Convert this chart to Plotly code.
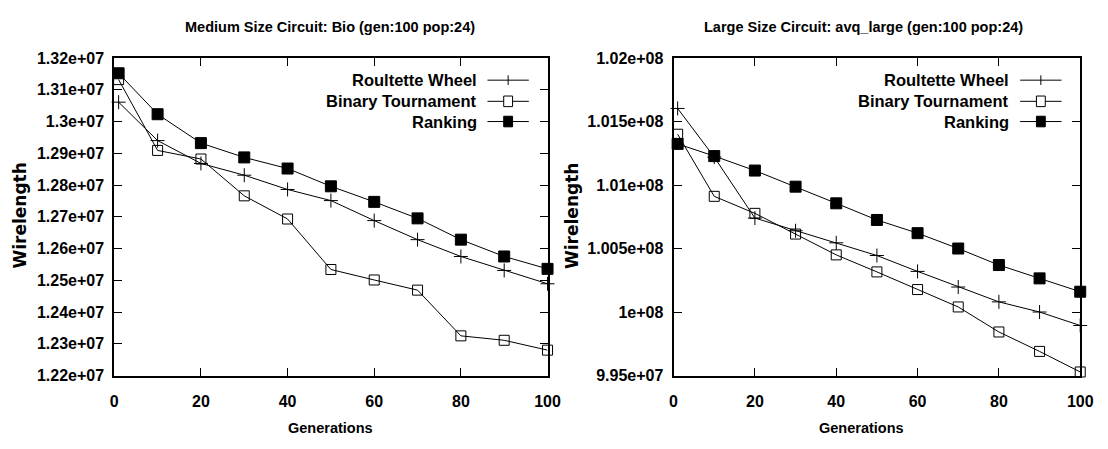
import plotly.graph_objects as go

# ---------------- data ----------------
generations = [1, 10, 20, 30, 40, 50, 60, 70, 80, 90, 100]

bio_roulette = [1.3061e7, 1.2940e7, 1.2868e7, 1.2831e7, 1.2786e7, 1.2751e7,
                1.2688e7, 1.2628e7, 1.2575e7, 1.2531e7, 1.2489e7]
bio_binary = [1.3132e7, 1.2909e7, 1.2882e7, 1.2766e7, 1.2693e7, 1.2534e7,
              1.2501e7, 1.2469e7, 1.2325e7, 1.2311e7, 1.2280e7]
bio_ranking = [1.3152e7, 1.3023e7, 1.2932e7, 1.2887e7, 1.2852e7, 1.2796e7,
               1.2747e7, 1.2695e7, 1.2628e7, 1.2575e7, 1.2536e7]

avq_roulette = [1.01603e8, 1.01220e8, 1.00740e8, 1.00640e8, 1.00545e8, 1.00445e8,
                1.00320e8, 1.00197e8, 1.00080e8, 1.00000e8, 9.9894e7]
avq_binary = [1.01400e8, 1.00911e8, 1.00777e8, 1.00614e8, 1.00450e8, 1.00316e8,
              1.00177e8, 1.00040e8, 9.9843e7, 9.9690e7, 9.9528e7]
avq_ranking = [1.01324e8, 1.01228e8, 1.01114e8, 1.00987e8, 1.00856e8, 1.00725e8,
               1.00621e8, 1.00500e8, 1.00370e8, 1.00265e8, 1.00160e8]

series_names = ["Roultette Wheel", "Binary Tournament", "Ranking"]

x_ticks = [0, 20, 40, 60, 80, 100]
left_y_ticks = [1.22e7, 1.23e7, 1.24e7, 1.25e7, 1.26e7, 1.27e7,
                1.28e7, 1.29e7, 1.30e7, 1.31e7, 1.32e7]
left_y_labels = ["1.22e+07", "1.23e+07", "1.24e+07", "1.25e+07", "1.26e+07", "1.27e+07",
                 "1.28e+07", "1.29e+07", "1.3e+07", "1.31e+07", "1.32e+07"]
right_y_ticks = [9.95e7, 1.0e8, 1.005e8, 1.01e8, 1.015e8, 1.02e8]
right_y_labels = ["9.95e+07", "1e+08", "1.005e+08", "1.01e+08", "1.015e+08", "1.02e+08"]

left_title = "Medium Size Circuit: Bio (gen:100 pop:24)"
right_title = "Large Size Circuit: avq_large (gen:100 pop:24)"

# ---------------- layout constants ----------------
W, H = 1108, 449
FONT = "Liberation Sans, Arial, sans-serif"
WIDE = "DejaVu Sans, Verdana, sans-serif"

L_X0, L_X1 = 112, 552
R_X0, R_X1 = 680, 1093
Y_TOP, Y_BOT = 52, 382


def px(x):
    return x / W


def py(y):
    return 1 - y / H


symbols = ["cross-thin-open", "square-open", "square"]
sizes = [10, 10, 11]

fig = go.Figure()

for data, xa, ya in [((bio_roulette, bio_binary, bio_ranking), "x", "y"),
                     ((avq_roulette, avq_binary, avq_ranking), "x2", "y2")]:
    for name, vals, sym, sz in zip(series_names, data, symbols, sizes):
        fig.add_trace(go.Scatter(
            x=generations, y=vals, name=name, mode="lines+markers",
            xaxis=xa, yaxis=ya, showlegend=False, cliponaxis=False,
            line=dict(color="black", width=1),
            marker=dict(symbol=sym, size=sz, color="black",
                        line=dict(color="black", width=1)),
        ))

axis_common = dict(
    showline=True, linecolor="black", linewidth=2, mirror="ticks",
    ticks="inside", ticklen=8, tickwidth=1.2, tickcolor="black",
    showgrid=False, zeroline=False,
    tickfont=dict(family=FONT, size=16, color="black", weight="bold"),
)

fig.update_layout(
    width=W, height=H, margin=dict(l=0, r=0, t=0, b=0),
    paper_bgcolor="white", plot_bgcolor="white",
    xaxis=dict(domain=[px(L_X0), px(L_X1)], range=[0, 100], tickvals=x_ticks,
               anchor="y", ticklabelstandoff=10, **axis_common),
    yaxis=dict(domain=[py(Y_BOT), py(Y_TOP)], range=[1.22e7, 1.32e7],
               tickvals=left_y_ticks, ticktext=left_y_labels, anchor="x",
               ticklabelstandoff=5, **axis_common),
    xaxis2=dict(domain=[px(R_X0), px(R_X1)], range=[0, 100], tickvals=x_ticks,
                anchor="y2", ticklabelstandoff=10, **axis_common),
    yaxis2=dict(domain=[py(Y_BOT), py(Y_TOP)], range=[9.95e7, 1.02e8],
                tickvals=right_y_ticks, ticktext=right_y_labels, anchor="x2",
                ticklabelstandoff=5, **axis_common),
)

annotations = []
shapes = []


def text(x, y, s, family=FONT, size=15, angle=0, xanchor="center"):
    annotations.append(dict(
        x=px(x), y=py(y), xref="paper", yref="paper", text="<b>%s</b>" % s,
        showarrow=False, xanchor=xanchor, yanchor="middle", textangle=angle,
        font=dict(family=family, size=size, color="black")))


# titles and axis titles
text(331, 20, left_title, size=14.5)
text(873, 20, right_title, size=14.5)
text(332, 437, "Generations", size=14.5)
text(871, 437, "Generations", size=14.5)
text(16, 216, "Wirelength", family=WIDE, size=17, angle=-90)
text(577, 216, "Wirelength", family=WIDE, size=17, angle=-90)

# gnuplot-style legends (text then key sample)
legend_offsets = [23, 45, 66]
for x_right in (L_X1, R_X1):
    for i, name in enumerate(series_names):
        yy = Y_TOP + legend_offsets[i]
        text(x_right - 70, yy, name, size=16.5, xanchor="right")
        shapes.append(dict(type="line", xref="paper", yref="paper",
                           x0=px(x_right - 61), x1=px(x_right - 19),
                           y0=py(yy), y1=py(yy),
                           line=dict(color="black", width=1)))
        cx = x_right - 40
        if i == 0:
            shapes.append(dict(type="line", xref="paper", yref="paper",
                               x0=px(cx), x1=px(cx), y0=py(yy - 5), y1=py(yy + 5),
                               line=dict(color="black", width=1)))
        else:
            shapes.append(dict(type="rect", xref="paper", yref="paper",
                               x0=px(cx - 4.5), x1=px(cx + 4.5),
                               y0=py(yy - 5.5), y1=py(yy + 5.5),
                               fillcolor="black" if i == 2 else "white",
                               line=dict(color="black", width=1)))

fig.update_layout(annotations=annotations, shapes=shapes)

fig.write_html("out.html")
